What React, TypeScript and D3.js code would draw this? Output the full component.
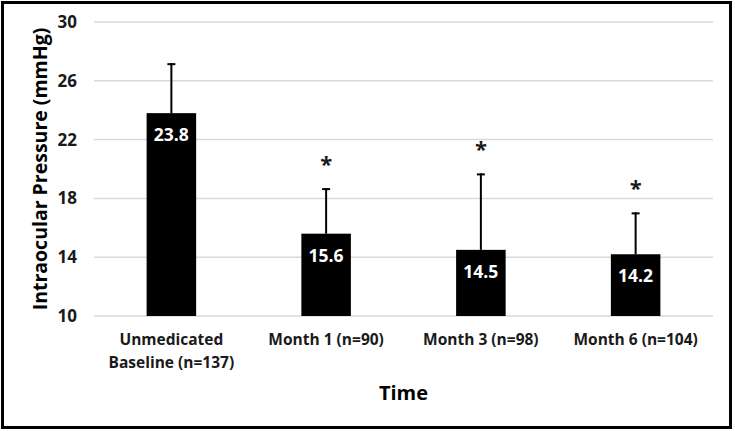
import React from "react";
import * as d3 from "d3";

const categories = ["Unmedicated\nBaseline (n=137)", "Month 1 (n=90)", "Month 3 (n=98)", "Month 6 (n=104)"];
const means = [23.8, 15.6, 14.5, 14.2];
const sds = [3.4, 3.1, 5.2, 2.85];
const sigMarks = ["", "*", "*", "*"];
const yTicks = [10, 14, 18, 22, 26, 30];
const yTitle = "Intraocular Pressure (mmHg)";
const xTitle = "Time";

const W = 735;
const H = 431;
const FONT = "'Open Sans', 'Liberation Sans', sans-serif";

export default function App() {
  const left = 94, right = 713, top = 22, bottom = 316;
  const x = d3.scaleBand<string>().domain(categories).range([left, right]).paddingInner(0.68).paddingOuter(0.34);
  const y = d3.scaleLinear().domain([10, 30]).range([bottom, top]);
  const bw = x.bandwidth();

  return (
    <svg width={W} height={H} style={{ position: "absolute", left: 0, top: 0, background: "#fff" }} fontFamily={FONT}>
      <rect x={0} y={0} width={W} height={H} fill="#fff" />
      <rect x={2.5} y={2.5} width={728} height={425} fill="none" stroke="#000" strokeWidth={3} />
      {yTicks.map((t) => (
        <g key={t}>
          <line x1={left} x2={right} y1={y(t)} y2={y(t)} stroke="#d9d9d9" strokeWidth={1.5} />
          <text x={77} y={y(t)} dy="0.35em" textAnchor="end" fontSize={17} fontWeight={700} fill="#1a1a1a">
            {t}
          </text>
        </g>
      ))}
      {categories.map((c, i) => {
        const cx = (x(c) as number) + bw / 2;
        const errTop = y(means[i] + sds[i]);
        return (
          <g key={c}>
            <line x1={cx} x2={cx} y1={y(means[i])} y2={errTop} stroke="#000" strokeWidth={2} />
            <line x1={cx - 4} x2={cx + 4} y1={errTop + 1} y2={errTop + 1} stroke="#000" strokeWidth={2} />
            <rect x={x(c)} y={y(means[i])} width={bw} height={y(10) - y(means[i])} fill="#000" />
            <text x={cx} y={y(means[i]) + 22} dy="0.35em" textAnchor="middle" fontSize={17.5} fontWeight={700} fill="#fff">
              {means[i].toFixed(1)}
            </text>
            {sigMarks[i] && (
              <text x={cx} y={errTop - 32} dy="0.7em" textAnchor="middle" fontSize={22} fontWeight={700} fill="#1a1a1a">
                {sigMarks[i]}
              </text>
            )}
            {c.split("\n").map((line, j) => (
              <text key={j} x={cx} y={340 + j * 22.5} dy="0.35em" textAnchor="middle" fontSize={15.5} fontWeight={700} fill="#1a1a1a">
                {line}
              </text>
            ))}
          </g>
        );
      })}
      <text x={403.5} y={393} dy="0.35em" textAnchor="middle" fontSize={20} fontWeight={700} fill="#000">
        {xTitle}
      </text>
      <text transform={`translate(40,${(top + bottom) / 2}) rotate(-90)`} dy="0.35em" textAnchor="middle" fontSize={19.5} fontWeight={700} fill="#000">
        {yTitle}
      </text>
    </svg>
  );
}
